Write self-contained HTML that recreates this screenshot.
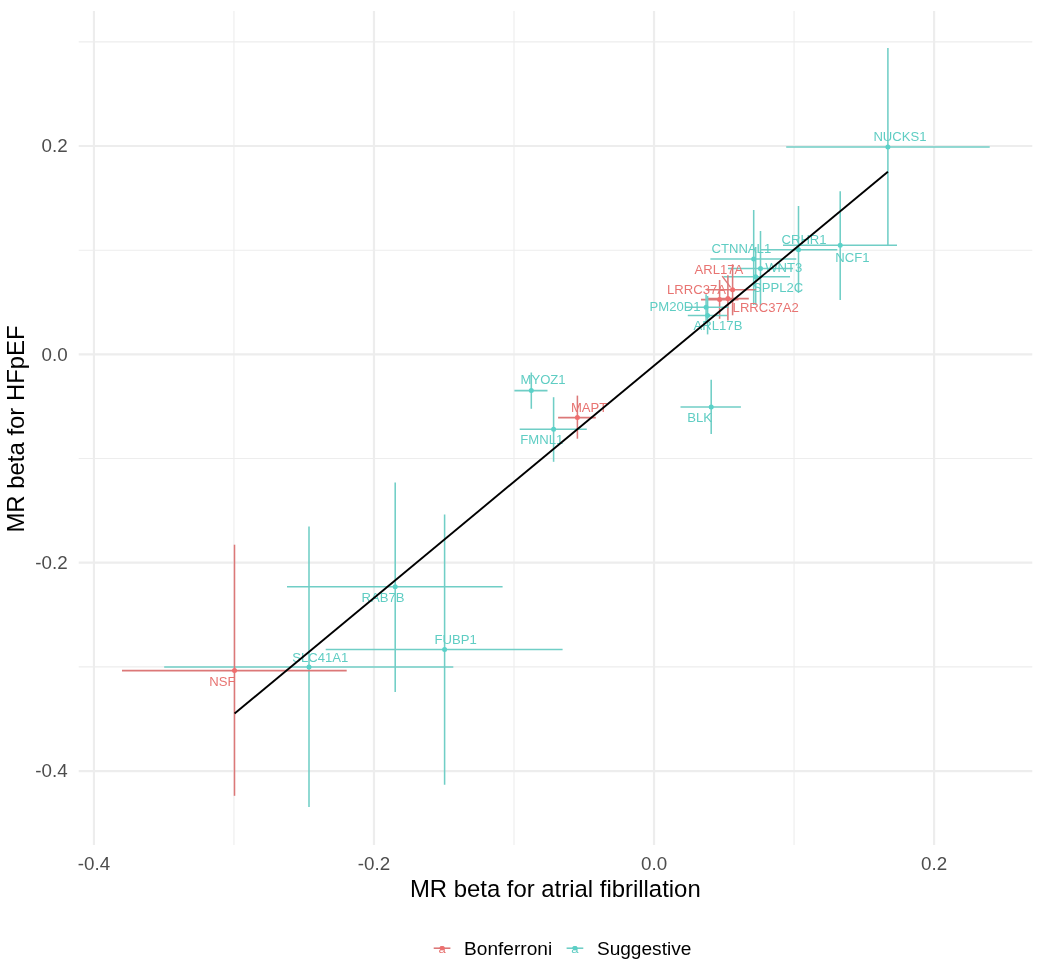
<!DOCTYPE html>
<html><head><meta charset="utf-8"><title>MR beta scatter</title>
<style>
html,body{margin:0;padding:0;background:#fff;}
body{width:1057px;height:963px;overflow:hidden;font-family:"Liberation Sans",sans-serif;}
svg{display:block;will-change:transform;}
svg text{font-family:"Liberation Sans",sans-serif;}
</style></head><body>
<svg width="1057" height="963" viewBox="0 0 1057 963">
<rect x="0" y="0" width="1057" height="963" fill="#ffffff"/>

<g stroke="#ededed" fill="none">
<line x1="233.97" y1="11.0" x2="233.97" y2="845.0" stroke-width="1.1"/>
<line x1="514.02" y1="11.0" x2="514.02" y2="845.0" stroke-width="1.1"/>
<line x1="794.07" y1="11.0" x2="794.07" y2="845.0" stroke-width="1.1"/>
<line x1="78.7" y1="41.83" x2="1032.3" y2="41.83" stroke-width="1.1"/>
<line x1="78.7" y1="250.18" x2="1032.3" y2="250.18" stroke-width="1.1"/>
<line x1="78.7" y1="458.53" x2="1032.3" y2="458.53" stroke-width="1.1"/>
<line x1="78.7" y1="666.88" x2="1032.3" y2="666.88" stroke-width="1.1"/>
<line x1="93.95" y1="11.0" x2="93.95" y2="845.0" stroke-width="2.2"/>
<line x1="374.00" y1="11.0" x2="374.00" y2="845.0" stroke-width="2.2"/>
<line x1="654.05" y1="11.0" x2="654.05" y2="845.0" stroke-width="2.2"/>
<line x1="934.10" y1="11.0" x2="934.10" y2="845.0" stroke-width="2.2"/>
<line x1="78.7" y1="146.00" x2="1032.3" y2="146.00" stroke-width="2.2"/>
<line x1="78.7" y1="354.35" x2="1032.3" y2="354.35" stroke-width="2.2"/>
<line x1="78.7" y1="562.70" x2="1032.3" y2="562.70" stroke-width="2.2"/>
<line x1="78.7" y1="771.05" x2="1032.3" y2="771.05" stroke-width="2.2"/>
</g>
<g fill="none" stroke-width="1.55" stroke-opacity="1">
<line x1="786.2" y1="147.00" x2="989.7" y2="147.00" stroke="#70cec6"/>
<line x1="887.90" y1="47.9" x2="887.90" y2="244.9" stroke="#70cec6"/>
<line x1="783.0" y1="245.20" x2="897.0" y2="245.20" stroke="#70cec6"/>
<line x1="840.20" y1="191.2" x2="840.20" y2="299.9" stroke="#70cec6"/>
<line x1="760.0" y1="249.80" x2="837.3" y2="249.80" stroke="#70cec6"/>
<line x1="798.50" y1="206.0" x2="798.50" y2="293.0" stroke="#70cec6"/>
<line x1="710.4" y1="258.90" x2="796.3" y2="258.90" stroke="#70cec6"/>
<line x1="753.70" y1="210.0" x2="753.70" y2="305.0" stroke="#70cec6"/>
<line x1="728.0" y1="268.50" x2="793.0" y2="268.50" stroke="#70cec6"/>
<line x1="760.50" y1="231.0" x2="760.50" y2="305.0" stroke="#70cec6"/>
<line x1="723.5" y1="276.80" x2="790.0" y2="276.80" stroke="#70cec6"/>
<line x1="755.70" y1="247.0" x2="755.70" y2="305.0" stroke="#70cec6"/>
<line x1="706.6" y1="289.70" x2="756.0" y2="289.70" stroke="#dc7878"/>
<line x1="732.60" y1="264.3" x2="732.60" y2="315.3" stroke="#dc7878"/>
<line x1="701.0" y1="299.60" x2="738.5" y2="299.60" stroke="#dc7878"/>
<line x1="719.60" y1="280.0" x2="719.60" y2="318.8" stroke="#dc7878"/>
<line x1="707.0" y1="298.60" x2="748.8" y2="298.60" stroke="#dc7878"/>
<line x1="727.90" y1="275.3" x2="727.90" y2="320.5" stroke="#dc7878"/>
<line x1="685.4" y1="307.30" x2="728.5" y2="307.30" stroke="#70cec6"/>
<line x1="706.10" y1="294.2" x2="706.10" y2="321.0" stroke="#70cec6"/>
<line x1="687.8" y1="315.40" x2="727.0" y2="315.40" stroke="#70cec6"/>
<line x1="707.60" y1="296.0" x2="707.60" y2="334.4" stroke="#70cec6"/>
<line x1="514.4" y1="390.60" x2="547.5" y2="390.60" stroke="#70cec6"/>
<line x1="531.30" y1="372.5" x2="531.30" y2="408.8" stroke="#70cec6"/>
<line x1="558.1" y1="417.60" x2="595.8" y2="417.60" stroke="#dc7878"/>
<line x1="577.40" y1="395.6" x2="577.40" y2="438.7" stroke="#dc7878"/>
<line x1="519.7" y1="429.20" x2="586.8" y2="429.20" stroke="#70cec6"/>
<line x1="553.60" y1="397.2" x2="553.60" y2="461.8" stroke="#70cec6"/>
<line x1="680.5" y1="407.00" x2="740.9" y2="407.00" stroke="#70cec6"/>
<line x1="711.20" y1="379.7" x2="711.20" y2="434.0" stroke="#70cec6"/>
<line x1="287.0" y1="586.80" x2="502.6" y2="586.80" stroke="#70cec6"/>
<line x1="395.20" y1="482.4" x2="395.20" y2="692.0" stroke="#70cec6"/>
<line x1="325.7" y1="649.50" x2="562.6" y2="649.50" stroke="#70cec6"/>
<line x1="444.60" y1="514.5" x2="444.60" y2="784.8" stroke="#70cec6"/>
<line x1="164.2" y1="667.00" x2="453.3" y2="667.00" stroke="#70cec6"/>
<line x1="309.00" y1="526.5" x2="309.00" y2="807.0" stroke="#70cec6"/>
<line x1="122.0" y1="670.60" x2="346.7" y2="670.60" stroke="#dc7878"/>
<line x1="234.50" y1="544.7" x2="234.50" y2="795.8" stroke="#dc7878"/>
</g>
<g stroke="none">
<circle cx="887.90" cy="147.00" r="2.5" fill="#5ad2c9"/>
<circle cx="840.20" cy="245.20" r="2.5" fill="#5ad2c9"/>
<circle cx="798.50" cy="249.80" r="2.5" fill="#5ad2c9"/>
<circle cx="753.70" cy="258.90" r="2.5" fill="#5ad2c9"/>
<circle cx="760.50" cy="268.50" r="2.5" fill="#5ad2c9"/>
<circle cx="755.70" cy="276.80" r="2.5" fill="#5ad2c9"/>
<circle cx="732.60" cy="289.70" r="2.5" fill="#f06e6e"/>
<circle cx="719.60" cy="299.60" r="2.5" fill="#f06e6e"/>
<circle cx="727.90" cy="298.60" r="2.5" fill="#f06e6e"/>
<circle cx="706.10" cy="307.30" r="2.5" fill="#5ad2c9"/>
<circle cx="707.60" cy="315.40" r="2.5" fill="#5ad2c9"/>
<circle cx="531.30" cy="390.60" r="2.5" fill="#5ad2c9"/>
<circle cx="577.40" cy="417.60" r="2.5" fill="#f06e6e"/>
<circle cx="553.60" cy="429.20" r="2.5" fill="#5ad2c9"/>
<circle cx="711.20" cy="407.00" r="2.5" fill="#5ad2c9"/>
<circle cx="395.20" cy="586.80" r="2.5" fill="#5ad2c9"/>
<circle cx="444.60" cy="649.50" r="2.5" fill="#5ad2c9"/>
<circle cx="309.00" cy="667.00" r="2.5" fill="#5ad2c9"/>
<circle cx="234.50" cy="670.60" r="2.5" fill="#f06e6e"/>
</g>
<g fill="none" stroke-width="1.4" stroke="#dc7878">
<line x1="722.2" y1="276.2" x2="730.6" y2="287.4"/>
</g>
<g font-size="13.1px">
<text x="873.4" y="141.49" fill="#5fcdc3">NUCKS1</text>
<text x="835.3" y="262.29" fill="#5fcdc3">NCF1</text>
<text x="781.5" y="244.19" fill="#5fcdc3">CRHR1</text>
<text x="711.5" y="253.29" fill="#5fcdc3">CTNNAL1</text>
<text x="765.2" y="271.59" fill="#5fcdc3">WNT3</text>
<text x="753.0" y="292.19" fill="#5fcdc3">SPPL2C</text>
<text x="694.5" y="274.19" fill="#e87472">ARL17A</text>
<text x="667.0" y="293.69" fill="#e87472">LRRC37A</text>
<text x="732.6" y="311.89" fill="#e87472">LRRC37A2</text>
<text x="649.5" y="311.09" fill="#5fcdc3">PM20D1</text>
<text x="693.6" y="330.09" fill="#5fcdc3">ARL17B</text>
<text x="520.5" y="384.09" fill="#5fcdc3">MYOZ1</text>
<text x="570.9" y="411.99" fill="#e87472">MAPT</text>
<text x="520.3" y="444.19" fill="#5fcdc3">FMNL1</text>
<text x="687.2" y="422.29" fill="#5fcdc3">BLK</text>
<text x="361.5" y="601.99" fill="#5fcdc3">RAB7B</text>
<text x="434.6" y="643.99" fill="#5fcdc3">FUBP1</text>
<text x="292.3" y="661.89" fill="#5fcdc3">SLC41A1</text>
<text x="209.2" y="685.89" fill="#e87472">NSF</text>
</g>
<line x1="234.6" y1="713.5" x2="887.9" y2="171.7" stroke="#000" stroke-width="1.9"/>
<g font-size="18.8px" fill="#4d4d4d">
<text x="67.7" y="152.23" text-anchor="end">0.2</text>
<text x="67.7" y="360.58" text-anchor="end">0.0</text>
<text x="67.7" y="568.93" text-anchor="end">-0.2</text>
<text x="67.7" y="777.28" text-anchor="end">-0.4</text>
<text x="93.95" y="869.8" text-anchor="middle">-0.4</text>
<text x="374.00" y="869.8" text-anchor="middle">-0.2</text>
<text x="654.05" y="869.8" text-anchor="middle">0.0</text>
<text x="934.10" y="869.8" text-anchor="middle">0.2</text>
</g>
<g font-size="23.9px" fill="#000">
<text x="555.3" y="897" text-anchor="middle">MR beta for atrial fibrillation</text>
<text transform="translate(23.6,429) rotate(-90)" text-anchor="middle">MR beta for HFpEF</text>
</g>
<g>
<line x1="433.7" y1="948.2" x2="450.4" y2="948.2" stroke="#dc7878" stroke-width="1.55"/>
<circle cx="442.05" cy="948.2" r="2.3" fill="#f06e6e"/>
<text x="442.05" y="952.8" font-size="13.1px" fill="#e87472" text-anchor="middle">a</text>
<text x="464.1" y="954.9" font-size="19.1px" fill="#000">Bonferroni</text>
<line x1="566.6" y1="948.2" x2="583.3000000000001" y2="948.2" stroke="#70cec6" stroke-width="1.55"/>
<circle cx="574.95" cy="948.2" r="2.3" fill="#5ad2c9"/>
<text x="574.95" y="952.8" font-size="13.1px" fill="#5fcdc3" text-anchor="middle">a</text>
<text x="596.9" y="954.9" font-size="19.1px" fill="#000">Suggestive</text>
</g>
</svg>
</body></html>
